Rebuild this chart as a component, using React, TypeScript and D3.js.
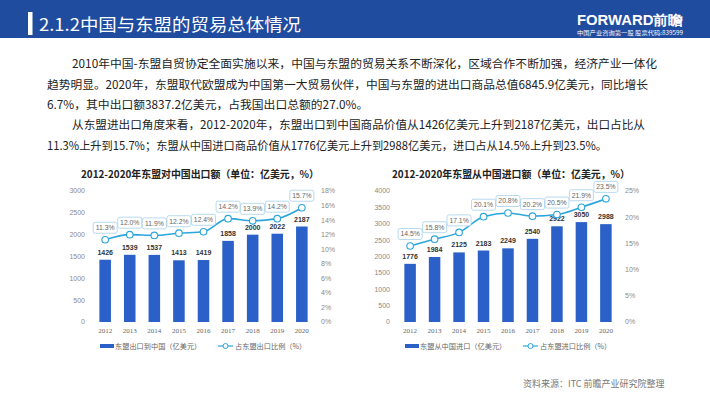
import React from "react";
import * as d3 from "d3";

// 2012-2020 ASEAN <-> China trade
const years = ["2012", "2013", "2014", "2015", "2016", "2017", "2018", "2019", "2020"];
const exportValues = [1426, 1539, 1537, 1413, 1419, 1858, 2000, 2022, 2187];
const exportShare = [11.3, 12.0, 11.9, 12.2, 12.4, 14.2, 13.9, 14.2, 15.7];
const importValues = [1776, 1984, 2125, 2183, 2249, 2540, 2922, 3050, 2988];
const importShare = [14.5, 15.8, 17.1, 20.1, 20.8, 20.2, 20.5, 21.9, 23.5];

const exportTicks = [0, 500, 1000, 1500, 2000, 2500, 3000];
const exportPctTicks = [0, 2, 4, 6, 8, 10, 12, 14, 16, 18];
const importTicks = [0, 500, 1000, 1500, 2000, 2500, 3000, 3500, 4000];
const importPctTicks = [0, 5, 10, 15, 20, 25];

const paragraphLines = [
  "2010年中国-东盟自贸协定全面实施以来，中国与东盟的贸易关系不断深化，区域合作不断加强，经济产业一体化",
  "趋势明显。2020年，东盟取代欧盟成为中国第一大贸易伙伴，中国与东盟的进出口商品总值6845.9亿美元，同比增长",
  "6.7%，其中出口额3837.2亿美元，占我国出口总额的27.0%。",
  "从东盟进出口角度来看，2012-2020年，东盟出口到中国商品价值从1426亿美元上升到2187亿美元，出口占比从",
  "11.3%上升到15.7%；东盟从中国进口商品价值从1776亿美元上升到2988亿美元，进口占从14.5%上升到23.5%。",
];

const BAR = "#2a60c8";
const LINE = "#2ba6dc";
const CJK = "'Noto Sans CJK SC', 'Noto Sans', sans-serif";

interface PanelProps {
  title: string;
  titleX: number;
  values: number[];
  shares: number[];
  ticks: number[];
  pctTicks: number[];
  x0: number;
  x1: number;
  barLegend: string;
  lineLegend: string;
}

const Panel: React.FC<PanelProps> = ({
  title,
  titleX,
  values,
  shares,
  ticks,
  pctTicks,
  x0,
  x1,
  barLegend,
  lineLegend,
}) => {
  const top = 191;
  const bottom = 322;
  const x = d3.scaleBand().domain(years).range([x0, x1]).paddingInner(0.53).paddingOuter(0.26);
  const y = d3.scaleLinear().domain([0, d3.max(ticks)!]).range([bottom, top]);
  const yp = d3.scaleLinear().domain([0, d3.max(pctTicks)!]).range([bottom, top]);
  const cx = (i: number) => (x(years[i]) || 0) + x.bandwidth() / 2;

  const line = d3
    .line<number>()
    .x((_, i) => cx(i))
    .y((d) => yp(d))
    .curve(d3.curveMonotoneX);

  const legendY = 346;

  return (
    <g>
      <text
        x={titleX}
        y={178}
        textAnchor="middle"
        fontFamily={CJK}
        fontWeight="bold"
        fontSize={10.2}
        fill="#222"
        textLength={238}
        lengthAdjust="spacingAndGlyphs"
      >
        {title}
      </text>

      {/* left axis */}
      {ticks.map((t) => (
        <text
          key={"l" + t}
          x={x0 - 8}
          y={y(t)}
          dy="0.35em"
          textAnchor="end"
          fontFamily="'Liberation Sans', Arial, sans-serif"
          fontSize={7}
          fill="#8a8a8a"
        >
          {t}
        </text>
      ))}
      {/* right axis */}
      {pctTicks.map((t) => (
        <text
          key={"r" + t}
          x={x1 + 7}
          y={yp(t)}
          dy="0.35em"
          fontFamily="'Liberation Sans', Arial, sans-serif"
          fontSize={7}
          fill="#8a8a8a"
        >
          {t}%
        </text>
      ))}
      {years.map((yr) => (
        <text
          key={"x" + yr}
          x={(x(yr) || 0) + x.bandwidth() / 2}
          y={333}
          textAnchor="middle"
          fontFamily="'Liberation Serif', serif"
          fontSize={7}
          fill="#666"
        >
          {yr}
        </text>
      ))}

      {/* bars */}
      {values.map((v, i) => (
        <g key={"b" + i}>
          <rect x={x(years[i])} y={y(v)} width={x.bandwidth()} height={bottom - y(v)} fill={BAR} />
          <text
            x={cx(i)}
            y={y(v) - 5}
            textAnchor="middle"
            fontFamily="'Liberation Sans', Arial, sans-serif"
            fontWeight="bold"
            fontSize={7}
            fill="#333"
          >
            {v}
          </text>
        </g>
      ))}

      {/* share line */}
      <path d={line(shares) || ""} fill="none" stroke={LINE} strokeWidth={1.6} />
      {shares.map((s, i) => (
        <g key={"p" + i}>
          <circle cx={cx(i)} cy={yp(s)} r={3.3} fill="#fff" stroke={LINE} strokeWidth={1.1} />
          <rect
            x={cx(i) - 12}
            y={yp(s) - 17.5}
            width={24}
            height={11}
            rx={2}
            fill="#fff"
            stroke="#a6cfea"
            strokeWidth={0.8}
          />
          <text
            x={cx(i)}
            y={yp(s) - 12}
            dy="0.35em"
            textAnchor="middle"
            fontFamily="'Liberation Sans', Arial, sans-serif"
            fontSize={6.8}
            fill="#666"
          >
            {s.toFixed(1)}%
          </text>
        </g>
      ))}

      {/* legend */}
      <rect x={x0 + 7} y={legendY - 2} width={14} height={4} fill={BAR} />
      <text
        x={x0 + 22}
        y={legendY}
        dy="0.35em"
        fontFamily={CJK}
        fontSize={7.2}
        fill="#666"
      >
        {barLegend}
      </text>
      <line x1={x0 + 125} x2={x0 + 140} y1={legendY} y2={legendY} stroke={LINE} strokeWidth={1.2} />
      <circle cx={x0 + 132.5} cy={legendY} r={2.5} fill="#fff" stroke={LINE} strokeWidth={1} />
      <text
        x={x0 + 142}
        y={legendY}
        dy="0.35em"
        fontFamily={CJK}
        fontSize={7.2}
        fill="#666"
      >
        {lineLegend}
      </text>
    </g>
  );
};

const lineLayout = [
  { x: 72, y: 68, w: 585 },
  { x: 47, y: 88.5, w: 601 },
  { x: 47, y: 108.5, w: 0 },
  { x: 72, y: 129, w: 573 },
  { x: 47, y: 149.5, w: 560 },
];

export default function App() {
  return (
    <svg
      width={710}
      height={399}
      style={{ position: "absolute", left: 0, top: 0, background: "#fff" }}
    >
      {/* header band */}
      <rect x={0} y={0} width={710} height={38} fill="#1f4c9f" />
      <rect x={28} y={12} width={4.5} height={23} fill="#fff" />
      <text
        x={39}
        y={31}
        fontFamily={CJK}
        fontSize={17}
        fill="#fff"
        textLength={262}
        lengthAdjust="spacingAndGlyphs"
      >
        2.1.2中国与东盟的贸易总体情况
      </text>
      <text
        x={577}
        y={25}
        fontFamily="'Liberation Sans', Arial, sans-serif"
        fontWeight="bold"
        fontSize={14}
        fill="#fff"
        textLength={106}
        lengthAdjust="spacingAndGlyphs"
      >
        FORWARD前瞻
      </text>
      <text
        x={577}
        y={34.5}
        fontFamily={CJK}
        fontSize={5.5}
        fill="#fff"
        textLength={106}
        lengthAdjust="spacingAndGlyphs"
      >
        中国产业咨询第一股 股票代码:839599
      </text>

      {/* body text */}
      {paragraphLines.map((t, i) => {
        const l = lineLayout[i];
        return (
          <text
            key={i}
            x={l.x}
            y={l.y}
            fontFamily={CJK}
            fontSize={11.8}
            fill="#222"
            {...(l.w ? { textLength: l.w, lengthAdjust: "spacingAndGlyphs" } : {})}
          >
            {t}
          </text>
        );
      })}

      <Panel
        title="2012-2020年东盟对中国出口额（单位：亿美元，%）"
        titleX={200}
        values={exportValues}
        shares={exportShare}
        ticks={exportTicks}
        pctTicks={exportPctTicks}
        x0={93}
        x1={314}
        barLegend="东盟出口到中国（亿美元）"
        lineLegend="占东盟出口比例（%）"
      />
      <Panel
        title="2012-2020年东盟从中国进口额（单位：亿美元，%）"
        titleX={511}
        values={importValues}
        shares={importShare}
        ticks={importTicks}
        pctTicks={importPctTicks}
        x0={398}
        x1={618}
        barLegend="东盟从中国进口（亿美元）"
        lineLegend="占东盟进口比例（%）"
      />

      <text x={523} y={387} fontFamily={CJK} fontSize={9} fill="#777">
        资料来源：ITC 前瞻产业研究院整理
      </text>
    </svg>
  );
}
